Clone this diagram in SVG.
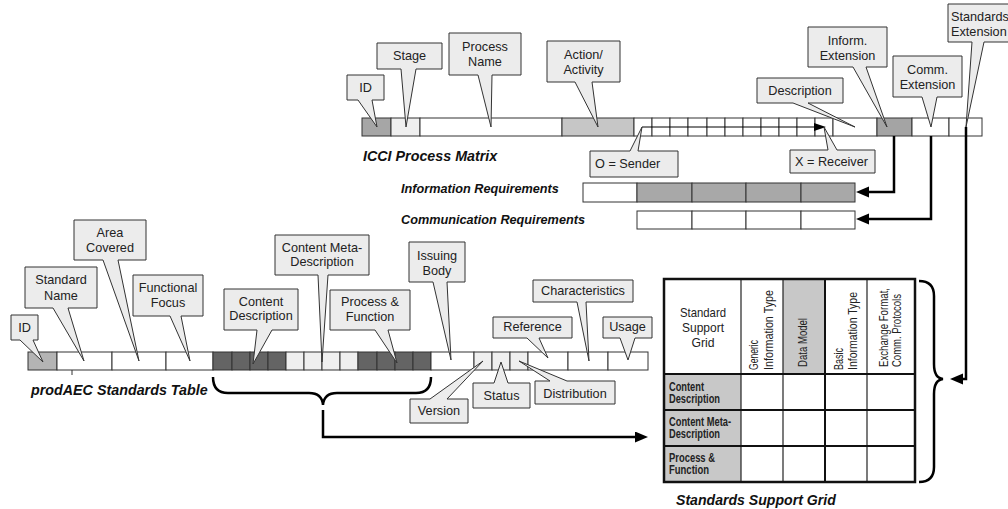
<svg xmlns="http://www.w3.org/2000/svg" width="1008" height="509" viewBox="0 0 1008 509">
  <style>
    .co { fill:#ececec; stroke:#333; stroke-width:1; }
    .cl { font-family:"Liberation Sans",Arial,sans-serif; font-size:12.7px; fill:#222; text-anchor:middle; }
    .cll { font-family:"Liberation Sans",Arial,sans-serif; font-size:12.7px; fill:#222; }
    .ttl { font-family:"Liberation Sans",Arial,sans-serif; font-weight:bold; font-style:italic; fill:#111; }
    .c { stroke:#333; stroke-width:1; }
    .w { fill:#ffffff; }
    .dk { fill:#646464; }
    .lt { fill:#efefef; }
    .md { fill:#a8a8a8; }
    .conn { fill:none; stroke:#000; stroke-width:2.5; stroke-linejoin:miter; }
    .gh { font-family:"Liberation Sans",Arial,sans-serif; font-size:12px; fill:#222; }
    .rh { font-family:"Liberation Sans",Arial,sans-serif; font-size:12px; font-weight:bold; fill:#222; }
  </style>
  <defs>
    <marker id="arr" markerUnits="userSpaceOnUse" markerWidth="15" markerHeight="12" refX="2" refY="5.5" orient="auto">
      <path d="M0,0 L13,5.5 L0,11 Z" fill="#000"/>
    </marker>
  </defs>
  <rect width="1008" height="509" fill="#ffffff"/>

  <!-- ICCI process matrix bar -->
  <g id="icci-matrix">
    <rect class="c" x="362" y="118" width="29" height="18" fill="#a6a6a6"/>
    <rect class="c lt" x="391" y="118" width="29" height="18"/>
    <rect class="c w" x="420" y="118" width="142" height="18"/>
    <rect class="c" x="562" y="118" width="72" height="18" fill="#c6c6c6"/>
    <g class="c w">
      <rect x="634" y="118" width="18" height="18"/>
      <rect x="652" y="118" width="18" height="18"/>
      <rect x="670" y="118" width="18" height="18"/>
      <rect x="688" y="118" width="19" height="18"/>
      <rect x="707" y="118" width="18" height="18"/>
      <rect x="725" y="118" width="18" height="18"/>
      <rect x="743" y="118" width="18" height="18"/>
      <rect x="761" y="118" width="18" height="18"/>
      <rect x="779" y="118" width="18" height="18"/>
      <rect x="797" y="118" width="18" height="18"/>
      <rect x="815" y="118" width="18" height="18"/>
      <rect x="833" y="118" width="44" height="18"/>
    </g>
    <rect class="c" x="877" y="118" width="35" height="18" fill="#a4a4a4"/>
    <rect class="c w" x="912" y="118" width="37" height="18"/>
    <rect class="c w" x="949" y="118" width="33" height="18"/>
    <!-- sender to receiver flow inside the matrix -->
    <line x1="642" y1="127" x2="816" y2="127" stroke="#000" stroke-width="1"/>
    <path d="M814,123 L826,127 L814,131 Z" fill="#000"/>
    <text class="ttl" x="363" y="161" font-size="14.3">ICCI Process Matrix</text>
  </g>

  <!-- requirement bars -->
  <g id="info-requirements">
    <text class="ttl" x="401" y="193" font-size="12.7">Information Requirements</text>
    <rect class="c w" x="583" y="183" width="54" height="19"/>
    <rect class="c md" x="637" y="183" width="55" height="19"/>
    <rect class="c md" x="692" y="183" width="54" height="19"/>
    <rect class="c md" x="746" y="183" width="55" height="19"/>
    <rect class="c md" x="801" y="183" width="54" height="19"/>
  </g>
  <g id="comm-requirements">
    <text class="ttl" x="401" y="224" font-size="12.7">Communication Requirements</text>
    <rect class="c w" x="637" y="211" width="55" height="18"/>
    <rect class="c w" x="692" y="211" width="54" height="18"/>
    <rect class="c w" x="746" y="211" width="55" height="18"/>
    <rect class="c w" x="801" y="211" width="54" height="18"/>
  </g>

  <!-- prodAEC standards table bar -->
  <g id="standards-table">
    <rect class="c" x="28" y="352" width="29" height="18" fill="#b4b4b4"/>
    <rect class="c w" x="57" y="352" width="55" height="18"/>
    <rect class="c w" x="112" y="352" width="54" height="18"/>
    <rect class="c w" x="166" y="352" width="47" height="18"/>
    <g class="c dk">
      <rect x="213" y="352" width="19" height="18"/>
      <rect x="232" y="352" width="18" height="18"/>
      <rect x="250" y="352" width="18" height="18"/>
      <rect x="268" y="352" width="18" height="18"/>
    </g>
    <g class="c lt">
      <rect x="286" y="352" width="18" height="18"/>
      <rect x="304" y="352" width="18" height="18"/>
      <rect x="322" y="352" width="18" height="18"/>
      <rect x="340" y="352" width="18" height="18"/>
    </g>
    <g class="c dk">
      <rect x="358" y="352" width="19" height="18"/>
      <rect x="377" y="352" width="18" height="18"/>
      <rect x="395" y="352" width="18" height="18"/>
      <rect x="413" y="352" width="18" height="18"/>
    </g>
    <rect class="c w" x="431" y="352" width="43" height="18"/>
    <g class="c lt">
      <rect x="474" y="352" width="18" height="18"/>
      <rect x="492" y="352" width="18" height="18"/>
      <rect x="510" y="352" width="18" height="18"/>
    </g>
    <rect class="c w" x="528" y="352" width="40" height="18"/>
    <rect class="c w" x="568" y="352" width="40" height="18"/>
    <rect class="c w" x="608" y="352" width="40" height="18"/>
    <line x1="72" y1="370" x2="72" y2="375" stroke="#333" stroke-width="1"/>
    <text class="ttl" x="31" y="395" font-size="14.3">prodAEC Standards  Table</text>
  </g>

  <!-- callouts of the ICCI matrix -->
  <g id="icci-id"><path class="co" d="M347,75 H384 V100 H372 L377,127 L358,100 H347 Z"/><text class="cl" x="365.5" y="92">ID</text></g>
  <g id="icci-stage"><path class="co" d="M377,43 H442 V69 H416 L406,127 L401,69 H377 Z"/><text class="cl" x="409.5" y="60">Stage</text></g>
  <g id="icci-process-name"><path class="co" d="M449,33 H521 V75 H492 L491,127 L478,75 H449 Z"/><text class="cl" x="485" y="51">Process</text><text class="cl" x="485" y="66">Name</text></g>
  <g id="icci-action"><path class="co" d="M547,41 H620 V82 H592 L598,127 L575,82 H547 Z"/><text class="cl" x="583.5" y="59">Action/</text><text class="cl" x="583.5" y="74">Activity</text></g>
  <g id="icci-sender"><path class="co" d="M590,151 H630 L642,127 L638,151 H678 V177 H590 Z"/><text class="cll" x="595" y="168">O = Sender</text></g>
  <g id="icci-receiver"><path class="co" d="M790,150 H828 L824,127 L837,150 H875 V173 H790 Z"/><text class="cll" x="795" y="166">X = Receiver</text></g>
  <g id="icci-description"><path class="co" d="M757,78 H843 V103 H808 L855,127 L793,103 H757 Z"/><text class="cl" x="800" y="95">Description</text></g>
  <g id="icci-inform-ext"><path class="co" d="M808,27 H887 V67 H866 L887,127 L853,67 H808 Z"/><text class="cl" x="847.5" y="45">Inform.</text><text class="cl" x="847.5" y="60">Extension</text></g>
  <g id="icci-comm-ext"><path class="co" d="M893,56 H962 V97 H937 L931,127 L922,97 H893 Z"/><text class="cl" x="927.5" y="74">Comm.</text><text class="cl" x="927.5" y="89">Extension</text></g>
  <g id="icci-standards-ext"><path class="co" d="M948,4 H1012 V42 H984 L966,127 L972,42 H948 Z"/><text class="cll" x="951" y="21" font-size="12.2">Standards</text><text class="cll" x="951" y="36" font-size="12.2">Extension</text></g>

  <!-- callouts of the standards table -->
  <g id="st-id"><path class="co" d="M11,315 H38 V340 H33 L43,362 L20,340 H11 Z"/><text class="cl" x="24.5" y="332">ID</text></g>
  <g id="st-name"><path class="co" d="M25,267 H97 V308 H68 L84,361 L53,308 H25 Z"/><text class="cl" x="61" y="284">Standard</text><text class="cl" x="61" y="300">Name</text></g>
  <g id="st-area"><path class="co" d="M74,220 H146 V260 H118 L139,361 L103,260 H74 Z"/><text class="cl" x="110" y="237">Area</text><text class="cl" x="110" y="252">Covered</text></g>
  <g id="st-focus"><path class="co" d="M133,275 H203 V316 H181 L190,361 L170,316 H133 Z"/><text class="cl" x="168" y="292">Functional</text><text class="cl" x="168" y="307">Focus</text></g>
  <g id="st-content"><path class="co" d="M224,289 H298 V330 H272 L253,364 L257,330 H224 Z"/><text class="cl" x="261" y="306">Content</text><text class="cl" x="261" y="320">Description</text></g>
  <g id="st-meta"><path class="co" d="M275,235 H369 V275 H328 L322,362 L318,275 H275 Z"/><text class="cl" x="322" y="252">Content Meta-</text><text class="cl" x="322" y="266">Description</text></g>
  <g id="st-process"><path class="co" d="M330,290 H410 V330 H388 L397,363 L375,330 H330 Z"/><text class="cl" x="370" y="306">Process &amp;</text><text class="cl" x="370" y="321">Function</text></g>
  <g id="st-issuing"><path class="co" d="M409,242 H465 V282 H447 L451,360 L433,282 H409 Z"/><text class="cl" x="437" y="260">Issuing</text><text class="cl" x="437" y="275">Body</text></g>
  <g id="st-characteristics"><path class="co" d="M533,280 H633 V302 H586 L589,361 L577,302 H533 Z"/><text class="cl" x="583" y="295">Characteristics</text></g>
  <g id="st-reference"><path class="co" d="M493,317 H572 V338 H539 L548,358 L527,338 H493 Z"/><text class="cl" x="532.5" y="331">Reference</text></g>
  <g id="st-usage"><path class="co" d="M603,317 H652 V338 H635 L628,360 L620,338 H603 Z"/><text class="cl" x="627.5" y="331">Usage</text></g>
  <g id="st-version"><path class="co" d="M410,399 H430 L483,361 L447,399 H468 V423 H410 Z"/><text class="cl" x="439" y="415">Version</text></g>
  <g id="st-status"><path class="co" d="M473,383 H494 L501,362 L508,383 H530 V408 H473 Z"/><text class="cl" x="501.5" y="400">Status</text></g>
  <g id="st-distribution"><path class="co" d="M535,381 H550 L519,361 L567,381 H615 V404 H535 Z"/><text class="cl" x="575" y="398">Distribution</text></g>

  <!-- standards support grid -->
  <g id="support-grid">
    <rect x="664" y="279" width="251" height="203" fill="#ffffff"/>
    <rect x="783" y="279" width="42" height="95" fill="#c8c8c8"/>
    <rect x="664" y="374" width="77" height="108" fill="#c8c8c8"/>
    <g stroke="#222" stroke-width="1.2">
      <line x1="741" y1="279" x2="741" y2="482"/>
      <line x1="783" y1="279" x2="783" y2="482"/>
      <line x1="867" y1="279" x2="867" y2="482"/>
    </g>
    <g stroke="#111" stroke-width="2">
      <line x1="825" y1="279" x2="825" y2="482"/>
      <line x1="664" y1="374" x2="915" y2="374"/>
      <line x1="664" y1="410" x2="915" y2="410"/>
      <line x1="664" y1="446" x2="915" y2="446"/>
    </g>
    <rect x="664" y="279" width="251" height="203" fill="none" stroke="#111" stroke-width="2.5"/>
    <text class="cl" x="703" y="317" font-size="14" textLength="46" lengthAdjust="spacingAndGlyphs">Standard</text>
    <text class="cl" x="703" y="332" font-size="14" textLength="42" lengthAdjust="spacingAndGlyphs">Support</text>
    <text class="cl" x="703" y="347" font-size="14" textLength="23" lengthAdjust="spacingAndGlyphs">Grid</text>
    <text class="gh" transform="translate(758,370) rotate(-90)" textLength="30" lengthAdjust="spacingAndGlyphs">Generic</text>
    <text class="gh" transform="translate(773,370) rotate(-90)" textLength="80" lengthAdjust="spacingAndGlyphs">Information  Type</text>
    <text class="gh" transform="translate(807,367) rotate(-90)" textLength="49" lengthAdjust="spacingAndGlyphs">Data Model</text>
    <text class="gh" transform="translate(843,370) rotate(-90)" textLength="22" lengthAdjust="spacingAndGlyphs">Basic</text>
    <text class="gh" transform="translate(857,370) rotate(-90)" textLength="78" lengthAdjust="spacingAndGlyphs">Information Type</text>
    <text class="gh" transform="translate(888,367) rotate(-90)" textLength="79" lengthAdjust="spacingAndGlyphs">Exchange Format,</text>
    <text class="gh" transform="translate(901,367) rotate(-90)" textLength="73" lengthAdjust="spacingAndGlyphs">Comm. Protocols</text>
    <text class="rh" x="669" y="391" textLength="35" lengthAdjust="spacingAndGlyphs">Content</text>
    <text class="rh" x="669" y="403" textLength="51" lengthAdjust="spacingAndGlyphs">Description</text>
    <text class="rh" x="669" y="426" textLength="62" lengthAdjust="spacingAndGlyphs">Content Meta-</text>
    <text class="rh" x="669" y="438" textLength="51" lengthAdjust="spacingAndGlyphs">Description</text>
    <text class="rh" x="669" y="462" textLength="46" lengthAdjust="spacingAndGlyphs">Process &amp;</text>
    <text class="rh" x="669" y="474" textLength="40" lengthAdjust="spacingAndGlyphs">Function</text>
    <text class="ttl" x="676" y="505" font-size="14.1">Standards Support Grid</text>
  </g>

  <!-- braces and connector arrows -->
  <g id="connectors">
    <path class="conn" d="M213,377 Q213,393 228,393 H309 Q322,393 323,405 Q324,393 337,393 H416 Q431,393 431,377"/>
    <path class="conn" d="M323,410 V437 H637" marker-end="url(#arr)"/>
    <path class="conn" d="M919,281 Q934,281 934,296 V364 Q934,378 943,379 Q934,380 934,394 V467 Q934,482 919,482"/>
    <path class="conn" d="M894,136 V192 H867" marker-end="url(#arr)"/>
    <path class="conn" d="M931,136 V219 H867" marker-end="url(#arr)"/>
    <path class="conn" d="M966,127 V379 H961" marker-end="url(#arr)"/>
  </g>
</svg>
